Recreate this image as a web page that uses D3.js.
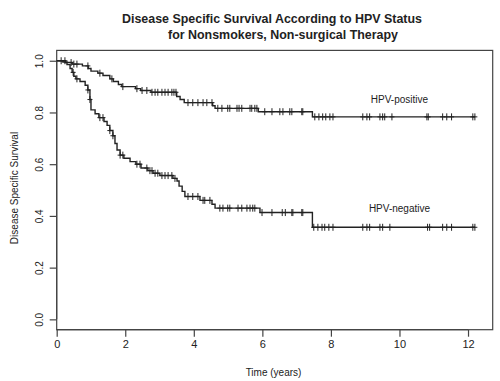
<!DOCTYPE html>
<html><head><meta charset="utf-8">
<script src="https://cdn.jsdelivr.net/npm/d3@7"></script>
<style>body{margin:0;background:#fff}svg{display:block}</style>
</head><body><svg id="c" width="500" height="381"></svg>
<script>
const titleLines = ["Disease Specific Survival According to HPV Status", "for Nonsmokers, Non-surgical Therapy"];
const xLabel = "Time (years)";
const yLabel = "Disease Specific Survival";
const xTicks = [0, 2, 4, 6, 8, 10, 12];
const yTicks = [0.0, 0.2, 0.4, 0.6, 0.8, 1.0];
const endTime = 12.2;

// HPV-positive: step times (years) and survival after step
const posTimes = [0, 0.25, 0.45, 0.75, 0.92, 1.0, 1.2, 1.35, 1.55, 1.65, 1.8, 1.9, 2.3, 2.45, 2.75, 3.5, 3.6, 3.72, 4.55, 4.62, 5.88, 7.46];
const posSurv  = [1.0, 0.993, 0.987, 0.98, 0.97, 0.96, 0.952, 0.943, 0.93, 0.92, 0.908, 0.9, 0.892, 0.885, 0.878, 0.862, 0.85, 0.838, 0.826, 0.816, 0.803, 0.783];
const posCensor = [0.13, 0.24, 0.42, 0.50, 0.59, 0.91, 1.26, 1.61, 1.93, 2.34, 2.49, 2.63, 2.78, 2.87, 2.95, 3.07, 3.16, 3.25, 3.36, 3.42, 3.48, 3.83, 3.97, 4.12, 4.27, 4.38, 4.53, 4.70, 4.82, 4.99, 5.05, 5.26, 5.32, 5.40, 5.64, 5.69, 5.78, 5.84, 6.07, 6.28, 6.51, 6.60, 6.80, 6.86, 7.15, 7.18, 7.53, 7.65, 7.76, 7.85, 7.97, 8.06, 8.93, 9.05, 9.13, 9.43, 9.51, 9.57, 9.78, 10.80, 10.84, 11.26, 11.38, 11.52, 12.14, 12.20];

// HPV-negative
const negTimes = [0, 0.18, 0.30, 0.39, 0.45, 0.50, 0.56, 0.68, 0.83, 0.91, 0.97, 1.00, 1.12, 1.23, 1.38, 1.47, 1.55, 1.64, 1.70, 1.76, 1.85, 1.96, 2.14, 2.31, 2.46, 2.66, 2.81, 3.01, 3.39, 3.51, 3.57, 3.66, 3.74, 4.18, 4.53, 4.62, 5.93, 7.46];
const negSurv  = [1.0, 0.995, 0.985, 0.97, 0.955, 0.94, 0.93, 0.92, 0.905, 0.887, 0.85, 0.81, 0.795, 0.78, 0.765, 0.75, 0.73, 0.71, 0.68, 0.655, 0.635, 0.623, 0.61, 0.6, 0.585, 0.575, 0.565, 0.556, 0.545, 0.535, 0.515, 0.495, 0.475, 0.46, 0.445, 0.43, 0.413, 0.356];
const negCensor = [0.48, 0.59, 0.91, 0.97, 1.26, 1.35, 1.55, 1.64, 1.85, 1.93, 2.34, 2.43, 2.63, 2.72, 2.78, 2.87, 2.95, 3.07, 3.16, 3.25, 3.36, 3.45, 3.83, 3.97, 4.12, 4.27, 4.32, 4.47, 4.76, 4.85, 4.99, 5.05, 5.29, 5.40, 5.55, 5.64, 5.72, 5.78, 5.99, 6.28, 6.58, 6.67, 6.86, 6.89, 7.15, 7.18, 7.50, 7.62, 7.74, 7.82, 7.94, 8.06, 8.93, 9.05, 9.13, 9.43, 9.51, 9.72, 10.82, 10.88, 11.26, 11.38, 11.52, 12.14, 12.20];

const seriesLabels = [
  {name: "HPV-positive", t: 10.0, s: 0.835},
  {name: "HPV-negative", t: 10.0, s: 0.415}
];

const svg = d3.select("#c");
const L = 56.7, R = 492.7, T = 50.4, B = 329.7;
const x = d3.scaleLinear().domain([0, 12.72]).range([L, R]);
const y = d3.scaleLinear().domain([-0.04, 1.04]).range([B, T]);
const font = "'Liberation Sans', Arial, sans-serif";
const ink = "#222";

// title
svg.append("text").attr("x", 272).attr("y", 23).attr("text-anchor", "middle")
  .attr("font-family", font).attr("font-weight", "bold").attr("font-size", 13.5).attr("fill", ink)
  .attr("textLength", 300).attr("lengthAdjust", "spacingAndGlyphs").text(titleLines[0]);
svg.append("text").attr("x", 283).attr("y", 39).attr("text-anchor", "middle")
  .attr("font-family", font).attr("font-weight", "bold").attr("font-size", 13.5).attr("fill", ink)
  .attr("textLength", 230).attr("lengthAdjust", "spacingAndGlyphs").text(titleLines[1]);

// box
svg.append("rect").attr("x", L).attr("y", T).attr("width", R - L).attr("height", B - T)
  .attr("fill", "none").attr("stroke", "#444").attr("stroke-width", 1.2);

// x axis
const xAxis = d3.axisBottom(x).tickValues(xTicks).tickSize(7).tickFormat(d3.format("d"));
const gx = svg.append("g").attr("transform", `translate(0,${B})`).call(xAxis);
gx.select(".domain").attr("stroke", "#444").attr("stroke-width", 1.2)
  .attr("d", `M${x(xTicks[0])},0H${x(xTicks[xTicks.length-1])}`);
gx.selectAll(".tick line").attr("stroke", "#444").attr("stroke-width", 1.2);
gx.selectAll(".tick text").attr("font-family", font).attr("font-size", 11).attr("fill", ink).attr("dy", "0.55em").attr("y", 12);

// y axis
const yAxis = d3.axisLeft(y).tickValues(yTicks).tickSize(7).tickFormat(d3.format(".1f"));
const gy = svg.append("g").attr("transform", `translate(${L},0)`).call(yAxis);
gy.select(".domain").attr("stroke", "#444").attr("stroke-width", 1.2)
  .attr("d", `M0,${y(yTicks[0])}V${y(yTicks[yTicks.length-1])}`);
gy.selectAll(".tick line").attr("stroke", "#444").attr("stroke-width", 1.2);
gy.selectAll(".tick text").attr("font-family", font).attr("font-size", 10).attr("fill", ink)
  .attr("x", null).attr("dy", null).attr("text-anchor", "middle")
  .attr("transform", "translate(-14,0) rotate(-90)");

// axis labels
svg.append("text").attr("x", 273.5).attr("y", 376).attr("text-anchor", "middle")
  .attr("font-family", font).attr("font-size", 10).attr("fill", ink).text(xLabel);
svg.append("text").attr("transform", "translate(18,188) rotate(-90)").attr("text-anchor", "middle")
  .attr("font-family", font).attr("font-size", 10).attr("fill", ink).text(yLabel);

// curves
function drawSeries(times, surv, censor) {
  const pts = times.map((t, i) => [t, surv[i]]);
  pts.push([endTime, surv[surv.length - 1]]);
  const line = d3.line().x(d => x(d[0])).y(d => y(d[1])).curve(d3.curveStepAfter);
  svg.append("path").attr("d", line(pts)).attr("fill", "none").attr("stroke", ink).attr("stroke-width", 1.4);
  const sAt = t => surv[Math.max(0, d3.bisectRight(times, t) - 1)];
  const g = svg.append("g").attr("stroke", ink).attr("stroke-width", 1);
  censor.forEach(t => {
    const cx = x(t), cy = y(sAt(t));
    g.append("line").attr("x1", cx).attr("x2", cx).attr("y1", cy - 3.5).attr("y2", cy + 3.5);
    g.append("line").attr("x1", cx - 2.5).attr("x2", cx + 2.5).attr("y1", cy).attr("y2", cy);
  });
}
drawSeries(posTimes, posSurv, posCensor);
drawSeries(negTimes, negSurv, negCensor);

seriesLabels.forEach(d => {
  svg.append("text").attr("x", x(d.t)).attr("y", y(d.s)).attr("text-anchor", "middle")
    .attr("font-family", font).attr("font-size", 10).attr("fill", ink).text(d.name);
});
</script></body></html>
